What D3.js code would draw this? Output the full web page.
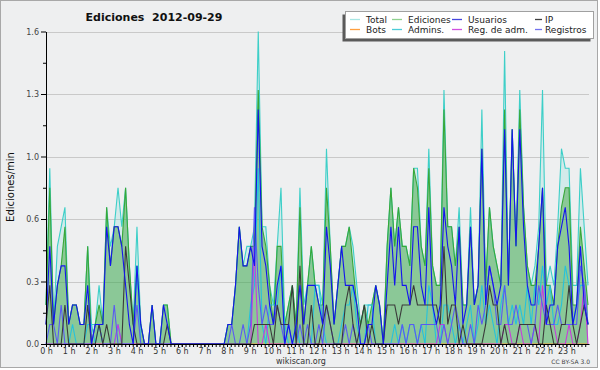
<!DOCTYPE html>
<html>
<head>
<meta charset="utf-8">
<script src="https://cdn.jsdelivr.net/npm/d3@7"></script>
<style>
  body { margin: 0; background: #fff; }
  svg { display: block; }
  text { font-family: "DejaVu Sans", sans-serif; }
</style>
</head>
<body>
<div id="chart"></div>
<script>
// values per 10-minute bin, in edits/min (144 bins, 0h-24h)
const total = [
  0.2,0.9,0.1,0.5,0.6,0.7,0.1,0.2,0.2,0.1,0.1,0.5,
  0.1,0.1,0.3,0.1,0.7,0.5,0.6,0.8,0.6,0.8,0.4,0.1,
  0.6,0.1,0,0,0.2,0,0,0.2,0.2,0,0,0,
  0,0,0,0,0,0,0,0,0,0,0,0,
  0.1,0.1,0.3,0.6,0.4,0.5,0.5,0.6,1.6,0.6,0.6,0.3,
  0.2,0.5,0.8,0.1,0.2,0.3,0.1,0.8,0.2,0.3,0.5,0.3,
  0.3,0.2,1.0,0.5,0.1,0.3,0.5,0.5,0.6,0.5,0.3,0.1,
  0.2,0.2,0.2,0.3,0.2,0,0.5,0.8,0.5,0.7,0.5,0.5,
  0.4,0.9,0.9,0.5,0.4,1.0,0.4,0.3,0.3,1.3,0.6,0.6,
  0.4,0.7,0.2,0.2,0.7,0.2,0.3,1.2,0.3,0.7,0.5,0.4,
  0.3,1.5,0.3,1.1,0.5,1.3,0.7,0.4,0.3,0.4,0.6,1.3,
  0.3,0.4,0.3,0.6,1.0,0.9,0.9,0.3,0.3,0.9,0.6,0.3
];
const ediciones = [
  0.2,0.8,0.1,0.3,0.4,0.6,0.1,0.2,0.2,0.1,0.1,0.5,
  0,0.1,0.2,0.1,0.7,0.4,0.6,0.6,0.5,0.8,0.4,0.1,
  0.4,0.1,0,0,0.2,0,0,0.2,0.2,0,0,0,
  0,0,0,0,0,0,0,0,0,0,0,0,
  0.1,0.1,0.3,0.6,0.4,0.4,0.5,0.5,1.3,0.6,0.5,0.3,
  0.1,0.5,0.5,0.1,0.2,0.3,0.1,0.7,0.1,0.3,0.5,0.3,
  0.2,0.2,0.8,0.5,0.1,0.3,0.5,0.5,0.6,0.4,0.2,0.1,
  0.2,0.1,0.2,0.3,0.2,0,0.5,0.8,0.5,0.7,0.5,0.5,
  0.4,0.9,0.8,0.5,0.4,0.9,0.4,0.3,0.3,1.2,0.6,0.6,
  0.4,0.6,0.2,0.2,0.6,0.2,0.3,1.0,0.3,0.7,0.5,0.4,
  0.3,1.2,0.3,1.1,0.5,1.2,0.7,0.4,0.3,0.3,0.5,0.8,
  0.3,0.3,0.2,0.5,0.7,0.8,0.8,0.2,0.2,0.6,0.4,0.2
];
const usuarios = [
  0.1,0.5,0.1,0.3,0.4,0.4,0.1,0.2,0.2,0.1,0.1,0.3,
  0,0.1,0.1,0.1,0.6,0.4,0.6,0.6,0.5,0.3,0.1,0,
  0.4,0.1,0,0,0.2,0,0,0.2,0.1,0,0,0,
  0,0,0,0,0,0,0,0,0,0,0,0,
  0.1,0.1,0.3,0.6,0.4,0.4,0.5,0.4,1.2,0.5,0.4,0.2,
  0.1,0.3,0.4,0,0.1,0,0.1,0.3,0.1,0.3,0.3,0.3,
  0.2,0.1,0.6,0.4,0.1,0.3,0.5,0.3,0.3,0.3,0.2,0,
  0,0.1,0.1,0.3,0.2,0,0.3,0.6,0.3,0.6,0.3,0.3,
  0.2,0.6,0.6,0.3,0.2,0.7,0.2,0.1,0.2,0.7,0.5,0.4,
  0.2,0.6,0.1,0.2,0.6,0.2,0.3,1.0,0.2,0.4,0.3,0.2,
  0.3,1.1,0.3,1.1,0.5,1.1,0.6,0.3,0.2,0.2,0.5,0.8,
  0.1,0.2,0.2,0.5,0.6,0.7,0.5,0.1,0.2,0.5,0.2,0.1
];
const ip = [
  0.1,0.3,0,0,0,0.2,0,0,0,0,0,0.2,
  0,0,0.1,0,0.1,0,0,0,0,0.5,0.3,0.1,
  0,0,0,0,0,0,0,0,0.1,0,0,0,
  0,0,0,0,0,0,0,0,0,0,0,0,
  0,0,0,0,0,0,0,0.1,0.1,0.1,0.1,0.1,
  0,0.2,0.1,0.1,0.1,0.3,0,0.4,0,0,0.2,0,
  0,0.1,0.2,0.1,0,0,0,0.2,0.3,0.1,0,0.1,
  0.2,0,0.1,0,0,0,0.2,0.2,0.2,0.1,0.2,0.2,
  0.2,0.3,0.2,0.2,0.2,0.2,0.2,0.2,0.1,0.5,0.1,0.2,
  0.2,0,0.1,0,0,0,0,0,0.1,0.3,0.2,0.2,
  0,0.1,0,0,0,0.1,0.1,0.1,0.1,0.1,0,0,
  0.2,0.1,0,0,0.1,0.1,0.3,0.1,0,0.1,0.2,0.1
];
const bots = [
  0,0,0,0,0,0,0,0,0,0,0,0, 0,0,0,0,0,0,0,0,0,0,0,0,
  0,0,0,0,0,0,0,0,0,0,0,0, 0,0,0,0,0,0,0,0,0,0,0,0,
  0,0,0,0,0,0,0,0,0,0,0,0, 0,0,0,0,0,0,0,0,0,0,0,0,
  0,0,0,0,0,0,0,0,0,0,0,0, 0,0,0,0,0,0,0,0,0,0,0,0,
  0,0,0,0,0,0,0,0,0,0,0,0, 0,0,0,0,0,0,0,0,0,0,0,0,
  0,0,0,0,0,0,0,0,0,0,0,0, 0,0,0,0,0,0,0,0,0,0,0,0
];
const admins = [
  0,0,0,0,0,0,0,0.1,0,0,0,0.1,
  0.1,0,0.1,0,0,0,0,0.1,0,0,0,0,
  0.4,0,0,0,0,0,0,0,0,0,0,0,
  0,0,0,0,0,0,0,0,0,0,0,0,
  0,0,0,0,0,0,0.2,0.3,0.9,0.1,0,0.2,
  0.2,0.2,0.4,0.1,0,0,0.1,0,0,0,0,0.3,
  0.3,0.1,0,0,0,0,0.1,0.2,0.2,0.3,0.1,0,
  0,0.2,0.2,0,0,0,0,0,0.1,0,0.1,0,
  0.1,0.1,0,0.1,0,0.3,0.2,0,0,0.2,0.2,0.1,
  0,0.1,0,0.1,0.2,0,0.1,0.3,0.1,0.2,0.1,0,
  0.2,0.3,0.1,0.2,0.1,0.2,0.1,0.3,0.1,0.3,0.2,0.4,
  0.2,0.3,0.1,0.1,0.2,0.4,0.3,0.1,0.2,0.3,0.3,0.1
];
const regAdm = [
  0,0,0,0,0,0,0,0,0,0,0,0,
  0,0,0,0,0,0,0,0.1,0,0,0,0,
  0,0,0,0,0,0,0,0,0,0,0,0,
  0,0,0,0,0,0,0,0,0,0,0,0,
  0,0,0,0,0,0,0,0.5,0,0,0.1,0,
  0,0,0,0,0,0,0,0,0,0,0,0,
  0,0,0,0,0,0,0,0,0,0,0,0,
  0,0,0,0,0,0,0,0,0,0,0,0,
  0,0,0,0,0,0,0,0,0.1,0.1,0,0,
  0,0,0,0,0,0,0,0,0,0,0,0,
  0,0.1,0.1,0,0,0.1,0,0,0,0.1,0,0.3,
  0.1,0.1,0.1,0,0,0,0.1,0,0,0.1,0.3,0
];
const registros = [
  0,0.1,0.1,0,0.2,0,0,0,0,0,0,0,
  0,0.1,0.1,0,0,0,0.2,0,0,0,0,0,
  0.2,0,0,0,0,0,0,0,0,0,0,0,
  0,0,0,0,0,0,0,0,0,0,0,0,
  0,0.1,0,0,0.1,0,0.1,0.7,0.3,0.1,0.2,0.1,
  0.1,0.2,0.1,0,0.1,0,0,0.1,0,0.1,0,0,
  0.1,0,0.2,0.1,0,0,0,0.1,0,0.1,0,0,
  0,0.1,0,0,0,0,0,0,0,0,0.1,0,
  0.1,0.1,0,0.1,0.1,0.1,0.1,0.1,0,0.1,0,0.1,
  0.2,0.1,0,0,0.1,0,0.2,0.1,0.2,0.4,0.3,0.1,
  0.1,0.3,0.1,0.1,0.2,0.1,0.1,0.1,0,0.1,0.3,0.2,
  0.1,0.1,0.1,0.2,0.1,0.1,0.1,0.1,0.1,0.4,0.3,0.1
];

const seriesNames = ["Total", "Ediciones", "Usuarios", "IP", "Bots", "Admins.", "Reg. de adm.", "Registros"];
const hourLabels = ["0 h","1 h","2 h","3 h","4 h","5 h","6 h","7 h","8 h","9 h","10 h","11 h",
  "12 h","13 h","14 h","15 h","16 h","17 h","18 h","19 h","20 h","21 h","22 h","23 h"];
const yTicks = [0, 0.32, 0.64, 0.96, 1.28, 1.6];
const yTickLabels = ["0.0", "0.3", "0.6", "1.0", "1.3", "1.6"];

const width = 600, height = 370;
const margin = { top: 31.5, right: 11, bottom: 26, left: 46 };

const lineColor = {
  "Total": "#3dcfc8", "Ediciones": "#38a838", "Usuarios": "#1414ee", "IP": "#3a3a3a",
  "Bots": "#ff9a2e", "Admins.": "#26c2dc", "Reg. de adm.": "#c83cdc", "Registros": "#5a5af2"
};
const legendColor = {
  "Total": "#a8e6e4", "Ediciones": "#8fd18f", "Usuarios": "#4646de", "IP": "#404040",
  "Bots": "#ffa040", "Admins.": "#4cccd8", "Reg. de adm.": "#d050e0", "Registros": "#7272ee"
};
const seriesData = {
  "Total": total, "Ediciones": ediciones, "Usuarios": usuarios, "IP": ip,
  "Bots": bots, "Admins.": admins, "Reg. de adm.": regAdm, "Registros": registros
};

const svg = d3.select("#chart").append("svg")
  .attr("width", width).attr("height", height);

svg.append("rect")
  .attr("x", 0.5).attr("y", 0.5).attr("width", 597).attr("height", 367)
  .attr("fill", "#eeeff0").attr("stroke", "#a8a8a8");

const x = d3.scaleLinear().domain([0, total.length - 1])
  .range([margin.left, width - margin.right - 1]);
const xHour = d3.scaleLinear().domain([0, 24])
  .range([margin.left, width - margin.right]);
const y = d3.scaleLinear().domain([0, 1.6])
  .range([height - margin.bottom, margin.top]);

// grid
svg.append("g").selectAll("line")
  .data(yTicks.slice(1))
  .join("line")
  .attr("x1", margin.left).attr("x2", width - margin.right)
  .attr("y1", d => Math.round(y(d)) + 0.5).attr("y2", d => Math.round(y(d)) + 0.5)
  .attr("stroke", "#c9c9c9");

// filled areas
const area = d3.area().x((d, i) => x(i)).y0(y(0)).y1(d => y(d));
svg.append("path").datum(total).attr("d", area).attr("fill", "rgba(61,207,200,0.15)");
svg.append("path").datum(ediciones).attr("d", area).attr("fill", "rgba(51,160,51,0.45)");

// lines
const line = d3.line().x((d, i) => x(i)).y(d => y(d));
const drawOrder = ["Total", "Ediciones", "Bots", "Admins.", "Reg. de adm.", "Registros", "IP", "Usuarios"];
svg.append("g").selectAll("path")
  .data(drawOrder)
  .join("path")
  .attr("d", k => line(seriesData[k]))
  .attr("fill", "none")
  .attr("stroke", k => lineColor[k])
  .attr("stroke-width", 1.1);

// y axis
const yAxis = svg.append("g").attr("class", "axis").attr("transform", `translate(${margin.left},0)`);
yAxis.call(d3.axisLeft(y).tickValues(yTicks).tickFormat((d, i) => yTickLabels[i])
  .tickSize(5).tickSizeOuter(0).tickPadding(2));
yAxis.append("g").call(d3.axisLeft(y).tickValues(d3.range(0.16, 1.6, 0.32))
  .tickSize(3).tickFormat("")).select(".domain").remove();
yAxis.selectAll("text").attr("font-size", 8).attr("fill", "#444")
  .attr("font-family", "DejaVu Sans");

// x axis
const xAxis = svg.append("g").attr("class", "axis").attr("transform", `translate(0,${height - margin.bottom})`);
xAxis.call(d3.axisBottom(xHour).tickValues(d3.range(0, 24)).tickFormat((d, i) => hourLabels[i])
  .tickSize(3).tickSizeOuter(0).tickPadding(1));
xAxis.append("g").call(d3.axisBottom(xHour).tickValues(d3.range(0, 144).map(d => d / 6))
  .tickSize(3).tickFormat("")).select(".domain").remove();
xAxis.selectAll("text").attr("font-size", 8).attr("fill", "#333")
  .attr("font-family", "DejaVu Sans");
svg.selectAll(".axis .domain").attr("stroke", "#000");
svg.selectAll(".axis .tick line").attr("stroke", "#000");

// title
svg.append("text")
  .attr("x", 154).attr("y", 21)
  .attr("text-anchor", "middle")
  .attr("font-size", 11).attr("font-weight", "bold").attr("fill", "#111")
  .text("Ediciones\u00a0\u00a02012-09-29");

// y label
svg.append("text")
  .attr("transform", "translate(14,187) rotate(-90)")
  .attr("text-anchor", "middle")
  .attr("font-family", "DejaVu Sans Mono").attr("font-size", 10).attr("fill", "#111")
  .text("Ediciones/min");

// footer
svg.append("text").attr("x", 301).attr("y", 364).attr("text-anchor", "middle")
  .attr("font-size", 8).attr("fill", "#333").text("wikiscan.org");
svg.append("text").attr("x", 590).attr("y", 364).attr("text-anchor", "end")
  .attr("font-size", 6).attr("fill", "#444").text("CC BY-SA 3.0");

// legend
const legend = svg.append("g");
legend.append("rect").attr("x", 342.5).attr("y", 14.5).attr("width", 248).attr("height", 27)
  .attr("fill", "#5a5a5a");
legend.append("rect").attr("x", 345.5).attr("y", 11.5).attr("width", 248).attr("height", 27)
  .attr("fill", "#fff").attr("stroke", "#a0a0a0");
const colX = [366, 408, 468, 545];
const rowY = [19.5, 29.5];
const items = legend.selectAll("g.item")
  .data(seriesNames)
  .join("g").attr("class", "item")
  .attr("transform", (d, i) => `translate(${colX[i % 4]},${rowY[Math.floor(i / 4)]})`);
items.append("line")
  .attr("x1", (d, i) => i % 4 === 3 ? -10 : -16).attr("x2", (d, i) => i % 4 === 3 ? -3 : -6)
  .attr("y1", 0).attr("y2", 0)
  .attr("stroke", d => legendColor[d]).attr("stroke-width", 1.3);
items.append("text")
  .attr("y", 3.3)
  .attr("font-size", 9).attr("fill", "#222")
  .text(d => d);
</script>
</body>
</html>
